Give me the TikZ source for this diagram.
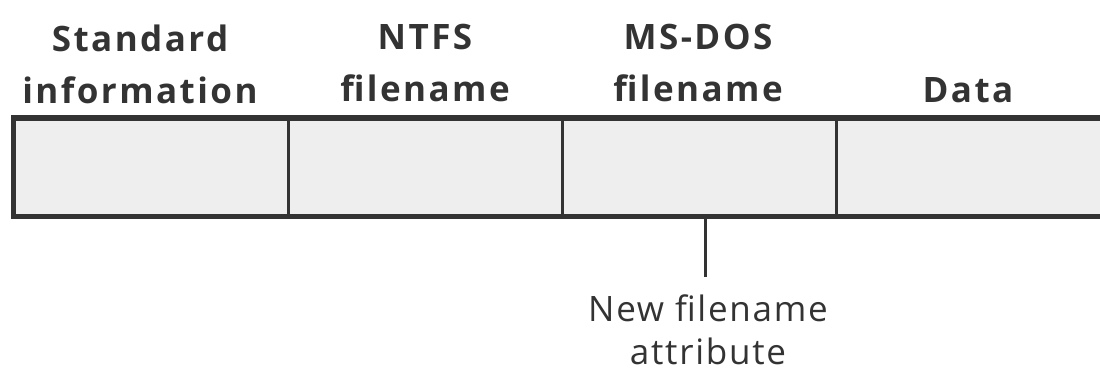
\documentclass[tikz,border=0pt]{standalone}
\usepackage{fontspec}
\setmainfont{Open Sans}
\newfontfamily\headfont[LetterSpace=7]{Open Sans}
\newfontfamily\notefont[LetterSpace=5]{Open Sans}
\begin{document}
\begin{tikzpicture}[x=0.5pt,y=-0.5pt,
  barline/.style={draw=ink,line width=2.75pt},
  divider/.style={draw=ink,line width=1.5pt},
  head/.style={inner sep=0pt,align=center,text=ink,font=\headfont\fontsize{17.5}{26}\selectfont\bfseries},
  note/.style={inner sep=0pt,align=center,text=ink,font=\notefont\fontsize{17.5}{21.5}\selectfont},
  cell/.style={inner sep=0pt,minimum height=98.5pt*0.5,draw=none}]
\definecolor{ink}{HTML}{333333}
\definecolor{cellfill}{HTML}{EEEEEE}
\useasboundingbox (0,0) rectangle (1100,372);
\fill[cellfill] (13.5,118) rectangle (1110,216.5);
\draw[barline] (1110,118) -- (13.5,118) -- (13.5,216.5) -- (1110,216.5);
\draw[divider] (288,118) -- (288,216.5);
\draw[divider] (562,118) -- (562,216.5);
\draw[divider] (836,118) -- (836,216.5);
\node[cell,minimum width=137pt] (c1) at (150.75,167.25) {};
\node[cell,minimum width=137pt] (c2) at (425,167.25) {};
\node[cell,minimum width=137pt] (c3) at (699,167.25) {};
\node[cell,minimum width=132pt] (c4) at (968,167.25) {};
\node[head,anchor=north] (h1) at (140,24) {Standard\\information};
\node[head,anchor=north] (h2) at (425,24) {NTFS\\filename};
\node[head,anchor=north] (h3) at (698,24) {MS-DOS\\filename};
\node[head,anchor=base] (h4) at (968,102) {Data};
\coordinate (tap) at (705,216.5);
\node[note,anchor=north] (n1) at (708,294) {New filename\\attribute};
\draw[divider] (tap) -- (705,277);
\end{tikzpicture}
\end{document}
